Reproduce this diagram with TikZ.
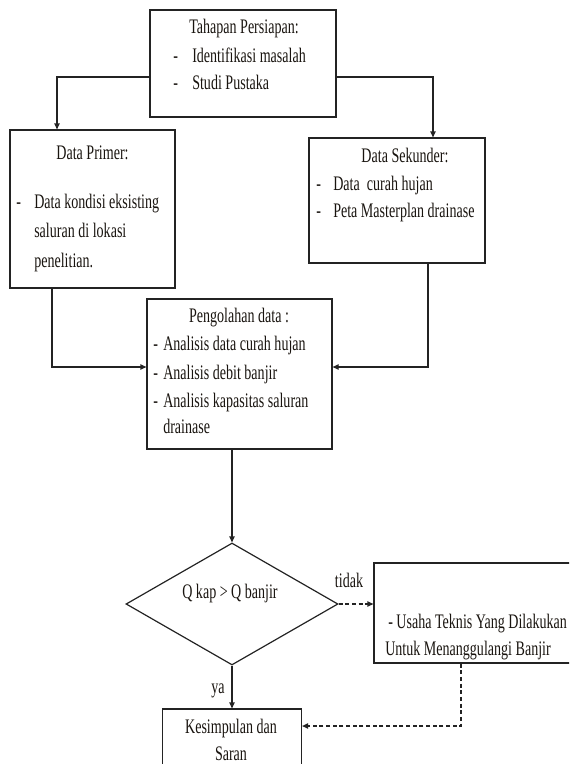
\documentclass[tikz,border=0pt]{standalone}
\usepackage{fontspec}
\setmainfont{Liberation Serif}[FakeStretch=0.68]
\usetikzlibrary{calc,positioning,arrows.meta,shapes.geometric}
\definecolor{garis}{RGB}{35,35,35}
\definecolor{teks}{RGB}{25,20,15}
\newdimen\pxu
\pxu=0.75pt
\tikzset{
  kotak/.style={draw=garis, line width=0.9pt, inner sep=0pt},
  lbl/.style={font=\fontsize{15.5pt}{20pt}\selectfont, text=teks, inner sep=0pt},
  arr/.style={draw=garis, line width=0.9pt, -{Triangle[length=4.5pt,width=4pt]}},
  putus/.style={arr, dash pattern=on 3pt off 2pt}
}

\begin{document}
\begin{tikzpicture}[x=0.75pt, y=-0.75pt]
  \useasboundingbox (0,0) rectangle (569,764);
  \clip (0,0) rectangle (569,764);

  % Boxes
  \node[kotak, minimum width=186\pxu, minimum height=107\pxu] (tahap) at (243,63.5) {};
  \node[kotak, minimum width=165\pxu, minimum height=158\pxu] (primer) at (92.5,209) {};
  \node[kotak, minimum width=176\pxu, minimum height=125\pxu] (sekunder) at (397,200.5) {};
  \node[kotak, minimum width=185\pxu, minimum height=150\pxu] (olah) at (239.5,374) {};
  \node[kotak, diamond, minimum width=212\pxu, minimum height=122\pxu] (cek) at (232,604) {};
  \node[kotak, minimum width=226\pxu, minimum height=100\pxu] (usaha) at (487,613) {};
  \node[kotak, minimum width=139\pxu, minimum height=82\pxu] (simpul) at (232,750) {};

  % Tahapan Persiapan
  \node[lbl, anchor=base] (tahap-t) at (244,33) {Tahapan Persiapan:};
  \foreach \y/\t [count=\i] in {62/Identifikasi masalah, 89/Studi Pustaka}{
    \node[lbl, anchor=base west] (tahap-d\i) at (173,\y) {-};
    \node[lbl, anchor=base west] (tahap-\i) at (192,\y) {\t};
  }

  % Data Primer
  \node[lbl, anchor=base] (primer-t) at (92.5,159) {Data Primer:};
  \node[lbl, anchor=base west] (primer-d1) at (16,208) {-};
  \foreach \y/\t [count=\i] in {208/Data kondisi eksisting, 237/saluran di lokasi, 267/penelitian.}{
    \node[lbl, anchor=base west] (primer-\i) at (34,\y) {\t};
  }

  % Data Sekunder
  \node[lbl, anchor=base] (sekunder-t) at (405,162) {Data Sekunder:};
  \foreach \y/\t [count=\i] in {190/Data~ curah hujan, 217/Peta Masterplan drainase}{
    \node[lbl, anchor=base west] (sekunder-d\i) at (316,\y) {-};
    \node[lbl, anchor=base west] (sekunder-\i) at (333,\y) {\t};
  }

  % Pengolahan data
  \node[lbl, anchor=base] (olah-t) at (239,322) {Pengolahan data :};
  \foreach \y/\t [count=\i] in {350/Analisis data curah hujan, 379/Analisis debit banjir, 407/Analisis kapasitas saluran}{
    \node[lbl, anchor=base west] (olah-d\i) at (153,\y) {-};
    \node[lbl, anchor=base west] (olah-\i) at (163,\y) {\t};
  }
  \node[lbl, anchor=base west] (olah-4) at (163,433) {drainase};

  % Decision and results
  \node[lbl, anchor=base] (cek-t) at (230,598) {Q kap > Q banjir};
  \node[lbl, anchor=base west] (usaha-1) at (388,628) {- Usaha Teknis Yang Dilakukan};
  \node[lbl, anchor=base west] (usaha-2) at (385,655) {Untuk Menanggulangi Banjir};
  \node[lbl, anchor=base] (simpul-1) at (231,733) {Kesimpulan dan};
  \node[lbl, anchor=base] (simpul-2) at (231,760) {Saran};

  % Connectors
  \draw[arr] ($(tahap.west)+(0,13.5)$) -| ($(primer.north)+(-35.5,0)$);
  \draw[arr] ($(tahap.east)+(0,13.5)$) -| ($(sekunder.north)+(36,0)$);
  \draw[arr] ($(primer.south)+(-40.5,0)$) |- ($(olah.west)+(0,-7)$);
  \draw[arr] ($(sekunder.south)+(31,0)$) |- ($(olah.east)+(0,-7)$);
  \draw[arr] (olah.south -| cek.north) -- (cek.north);
  \draw[putus] (cek.east) -- (cek.east -| usaha.west);
  \node[lbl, anchor=base] (tidak) at (349,587) {tidak};
  \draw[arr] (cek.south) -- (simpul.north);
  \node[lbl, anchor=base] (ya) at (218,693) {ya};
  \draw[putus] ($(usaha.south)+(-26,0)$) |- ($(simpul.east)+(0,-24)$);
\end{tikzpicture}
\end{document}
